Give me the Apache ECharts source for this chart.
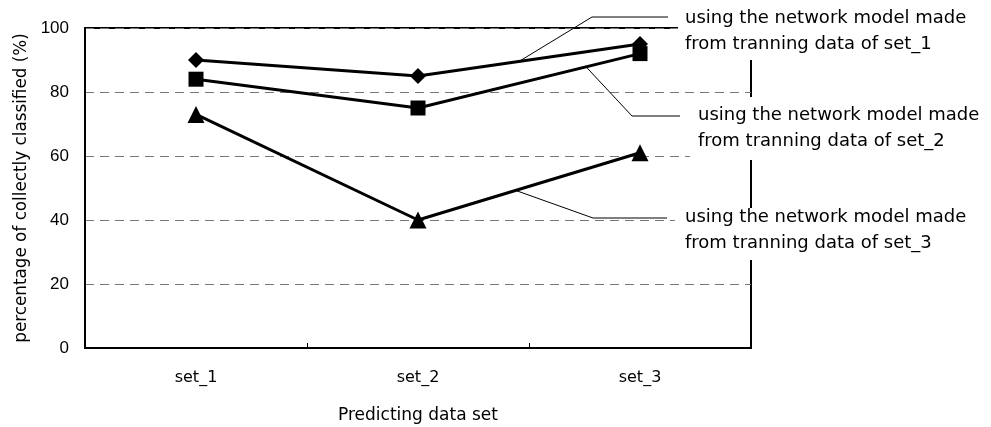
<!DOCTYPE html>
<html><head><meta charset="utf-8">
<script src="https://cdn.jsdelivr.net/npm/echarts@6/dist/echarts.min.js"></script>
<style>html,body{margin:0;padding:0;background:#fff}#c{width:991px;height:427px}</style>
</head><body><div id="c"></div>
<script>
var categories = ['set_1', 'set_2', 'set_3'];
var set1Model = [90, 85, 95];
var set2Model = [84, 75, 92];
var set3Model = [73, 40, 61];
var yTicks = [0, 20, 40, 60, 80, 100];
var labels = [
  'using the network model made\nfrom tranning data of set_1',
  'using the network model made\nfrom tranning data of set_2',
  'using the network model made\nfrom tranning data of set_3'
];

var chart = echarts.init(document.getElementById('c'));
var lineStyle = {color: '#000', width: 3};
function mk(name, data, symbol, size) {
  return {name: name, type: 'line', data: data, symbol: symbol, symbolSize: size,
    itemStyle: {color: '#000'}, lineStyle: lineStyle, animation: false, z: 5};
}
chart.setOption({
  animation: false,
  grid: {left: 85, right: 240, top: 28, bottom: 79, show: true, borderColor: '#000', borderWidth: 2,
    backgroundColor: 'transparent', containLabel: false, outerBoundsMode: 'none'},
  xAxis: {
    type: 'category', data: categories, boundaryGap: true,
    name: 'Predicting data set', nameLocation: 'middle', nameGap: 59,
    nameTextStyle: {fontFamily: 'DejaVu Sans', fontSize: 17, color: '#000'},
    axisLine: {lineStyle: {color: '#000', width: 2}},
    axisTick: {show: true, inside: true, length: 5, lineStyle: {color: '#000', width: 1}},
    axisLabel: {fontFamily: 'DejaVu Sans', fontSize: 16, color: '#000', margin: 22},
    splitLine: {show: false}
  },
  yAxis: {
    type: 'value', min: 0, max: 100, interval: 20,
    name: 'percentage of collectly classified (%)', nameLocation: 'middle', nameGap: 55,
    nameTextStyle: {fontFamily: 'DejaVu Sans', fontSize: 16.8, color: '#000'},
    axisLine: {show: true, lineStyle: {color: '#000', width: 2}},
    axisTick: {show: false},
    axisLabel: {fontFamily: 'Liberation Sans', fontSize: 17, color: '#000', margin: 16,
      formatter: function (v) { return yTicks.indexOf(v) >= 0 ? String(v) : ''; }},
    splitLine: {show: true, lineStyle: {color: '#777', width: 1, type: [9, 6]}}
  },
  series: [
    mk('set_1 model', set1Model, 'diamond', 16),
    mk('set_2 model', set2Model, 'rect', 15),
    mk('set_3 model', set3Model, 'triangle', 17)
  ]
});

function along(series, i, t) {
  var a = chart.convertToPixel({gridIndex: 0}, [i, series[i]]);
  var b = chart.convertToPixel({gridIndex: 0}, [i + 1, series[i + 1]]);
  return [a[0] + (b[0] - a[0]) * t, a[1] + (b[1] - a[1]) * t];
}
var p1 = along(set1Model, 1, 0.455);
var p2 = along(set2Model, 1, 0.757);
var p3 = along(set3Model, 1, 0.44);
var font = {fontFamily: 'DejaVu Sans', fontSize: 18, fill: '#000', lineHeight: 26};
var leader = {stroke: '#000', lineWidth: 1};
chart.setOption({
  graphic: [
    {type: 'polyline', z: 50, shape: {points: [p1, [592, 17], [668, 17]]}, style: leader},
    {type: 'polyline', z: 50, shape: {points: [p2, [632, 116], [680, 116]]}, style: leader},
    {type: 'polyline', z: 50, shape: {points: [p3, [593, 218], [667, 218]]}, style: leader},
    {type: 'rect', z: 60, shape: {x: 678, y: 0, width: 313, height: 60}, style: {fill: '#fff'}},
    {type: 'rect', z: 60, shape: {x: 690, y: 97, width: 301, height: 63}, style: {fill: '#fff'}},
    {type: 'rect', z: 60, shape: {x: 675, y: 208, width: 316, height: 52}, style: {fill: '#fff'}},
    {type: 'text', z: 70, x: 685, y: 5, style: Object.assign({text: labels[0]}, font)},
    {type: 'text', z: 70, x: 698, y: 102, style: Object.assign({text: labels[1]}, font)},
    {type: 'text', z: 70, x: 685, y: 204, style: Object.assign({text: labels[2]}, font)}
  ]
});
</script>
</body></html>
